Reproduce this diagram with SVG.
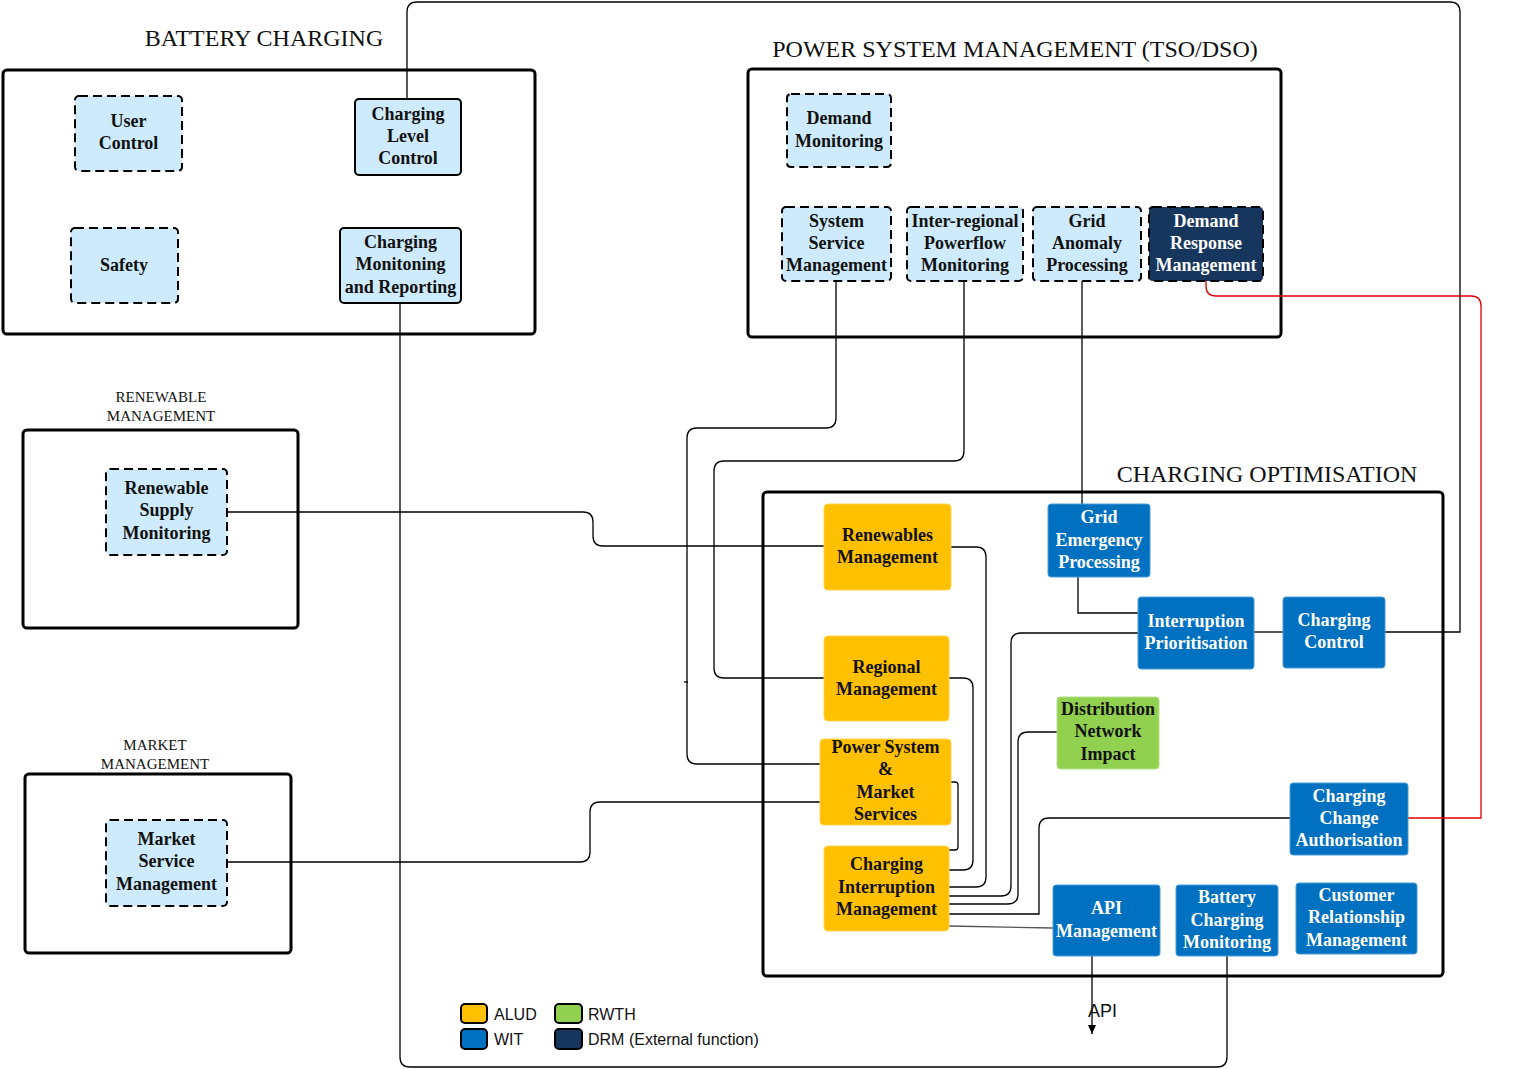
<svg xmlns="http://www.w3.org/2000/svg" width="1514" height="1069" viewBox="0 0 1514 1069">
<defs>
<style>
.grp{fill:none;stroke:#000;stroke-width:3}
.title{font-family:"Liberation Serif",serif;font-size:24px;fill:#111}
.stitle{font-family:"Liberation Serif",serif;font-size:15px;fill:#111}
.lb{fill:#CDEBFC;stroke:#000;stroke-width:2}
.dash{stroke-dasharray:9,5}
.navy{fill:#17365D;stroke:#000;stroke-width:2;stroke-dasharray:9,5}
.org{fill:#FFC000;stroke:#FFD24D;stroke-width:1}
.blu{fill:#0070C0;stroke:#4A9BD8;stroke-width:1}
.grn{fill:#92D050;stroke:#B5E08A;stroke-width:1}
.t{font-family:"Liberation Serif",serif;font-size:18px;font-weight:bold;text-anchor:middle;fill:#111}
.w{fill:#fff}
.c{fill:none;stroke:#000;stroke-width:1.3}
.red{fill:none;stroke:#E00000;stroke-width:1.3}
.leg{font-family:"Liberation Sans",sans-serif;font-size:16px;fill:#111}
</style>
<marker id="arr" markerWidth="10" markerHeight="10" refX="9" refY="4" orient="auto" markerUnits="userSpaceOnUse">
<path d="M0,0 L9,4 L0,8 Z" fill="#000"/>
</marker>
</defs>
<rect width="1514" height="1069" fill="#fff"/>

<g id="groups">
<text class="title" x="264" y="46" text-anchor="middle">BATTERY CHARGING</text>
<rect class="grp" x="3" y="70" width="532" height="264" rx="4"/>
<text class="title" x="1015" y="57" text-anchor="middle">POWER SYSTEM MANAGEMENT (TSO/DSO)</text>
<rect class="grp" x="748" y="69" width="533" height="268" rx="4"/>
<text class="stitle" x="161" y="402" text-anchor="middle">RENEWABLE</text>
<text class="stitle" x="161" y="421" text-anchor="middle">MANAGEMENT</text>
<rect class="grp" x="23" y="430" width="275" height="198" rx="4"/>
<text class="stitle" x="155" y="750" text-anchor="middle">MARKET</text>
<text class="stitle" x="155" y="769" text-anchor="middle">MANAGEMENT</text>
<rect class="grp" x="25" y="774" width="266" height="179" rx="4"/>
<text class="title" x="1267" y="482" text-anchor="middle">CHARGING OPTIMISATION</text>
<rect class="grp" x="763" y="492" width="680" height="484" rx="4"/>
</g>

<g id="connectors">
<path class="c" d="M407,99 V12 Q407,2 417,2 H1450 Q1460,2 1460,12 V632 H1385"/>
<path class="c" d="M400,303 V1057 Q400,1067 410,1067 H1217 Q1227,1067 1227,1057 V956"/>
<path class="c" d="M836,281 V418 Q836,428 826,428 H697 Q687,428 687,438 V754 Q687,764 697,764 H820"/>
<path class="c" d="M684,682 H688"/>
<path class="c" d="M964,281 V451 Q964,461 954,461 H724 Q714,461 714,471 V668 Q714,678 724,678 H824"/>
<path class="c" d="M1082,281 V504"/>
<path class="c" d="M227,512 H583 Q593,512 593,522 V536 Q593,546 603,546 H824"/>
<path class="c" d="M227,862 H580 Q590,862 590,852 V812 Q590,802 600,802 H820"/>
<path class="red" d="M1206,281 V286 Q1206,296 1216,296 H1471 Q1481,296 1481,306 V818 H1408"/>
<path class="c" d="M1078,577 V613 H1138"/>
<path class="c" d="M1254,632 H1283"/>
<path class="c" d="M951,782 H955 Q958,782 958,785 V847 Q958,850 955,850 H949"/>
<path class="c" d="M949,678 H963 Q973,678 973,688 V860 Q973,870 963,870 H949"/>
<path class="c" d="M951,547 H976 Q986,547 986,557 V877 Q986,887 976,887 H949"/>
<path class="c" d="M1138,633 H1021 Q1011,633 1011,643 V886 Q1011,896 1001,896 H949"/>
<path class="c" d="M1057,732 H1028 Q1018,732 1018,742 V894 Q1018,904 1008,904 H949"/>
<path class="c" d="M1290,818 H1049 Q1039,818 1039,828 V914 H949"/>
<path d="M949,926 L1053,928" fill="none" stroke="#555" stroke-width="1.3"/>
<path class="c" d="M1092,956 V1034" marker-end="url(#arr)"/>
</g>

<g id="user-control"><rect class="lb dash" x="75" y="96" width="107" height="75" rx="4"/><text class="t" x="128.5" y="127">User<tspan x="128.5" y="149">Control</tspan></text></g>
<g id="charging-level-control"><rect class="lb" x="355" y="99" width="106" height="76" rx="4"/><text class="t" x="408" y="120">Charging<tspan x="408" y="142">Level</tspan><tspan x="408" y="164">Control</tspan></text></g>
<g id="safety"><rect class="lb dash" x="71" y="228" width="107" height="75" rx="4"/><text class="t" x="124" y="271">Safety</text></g>
<g id="charging-monitoning"><rect class="lb" x="340" y="228" width="121" height="75" rx="4"/><text class="t" x="400.5" y="248">Charging<tspan x="400.5" y="270">Monitoning</tspan><tspan x="400.5" y="293">and Reporting</tspan></text></g>

<g id="demand-monitoring"><rect class="lb dash" x="787" y="94" width="104" height="73" rx="4"/><text class="t" x="839" y="124">Demand<tspan x="839" y="147">Monitoring</tspan></text></g>
<g id="system-service-management"><rect class="lb dash" x="782" y="207" width="109" height="74" rx="4"/><text class="t" x="836.5" y="227">System<tspan x="836.5" y="249">Service</tspan><tspan x="836.5" y="271">Management</tspan></text></g>
<g id="inter-regional"><rect class="lb dash" x="907" y="207" width="116" height="74" rx="4"/><text class="t" x="965" y="227">Inter-regional<tspan x="965" y="249">Powerflow</tspan><tspan x="965" y="271">Monitoring</tspan></text></g>
<g id="grid-anomaly"><rect class="lb dash" x="1033" y="207" width="108" height="74" rx="4"/><text class="t" x="1087" y="227">Grid<tspan x="1087" y="249">Anomaly</tspan><tspan x="1087" y="271">Processing</tspan></text></g>
<g id="demand-response"><rect class="navy" x="1149" y="207" width="114" height="74" rx="4"/><text class="t w" x="1206" y="227">Demand<tspan x="1206" y="249">Response</tspan><tspan x="1206" y="271">Management</tspan></text></g>

<g id="renewable-supply"><rect class="lb dash" x="106" y="469" width="121" height="86" rx="4"/><text class="t" x="166.5" y="494">Renewable<tspan x="166.5" y="516">Supply</tspan><tspan x="166.5" y="539">Monitoring</tspan></text></g>
<g id="market-service"><rect class="lb dash" x="106" y="820" width="121" height="86" rx="4"/><text class="t" x="166.5" y="845">Market<tspan x="166.5" y="867">Service</tspan><tspan x="166.5" y="890">Management</tspan></text></g>

<g id="renewables-management"><rect class="org" x="824" y="504" width="127" height="86" rx="4"/><text class="t" x="887.5" y="541">Renewables<tspan x="887.5" y="563">Management</tspan></text></g>
<g id="regional-management"><rect class="org" x="824" y="636" width="125" height="85" rx="4"/><text class="t" x="886.5" y="673">Regional<tspan x="886.5" y="695">Management</tspan></text></g>
<g id="power-system-market"><rect class="org" x="820" y="739" width="131" height="86" rx="4"/><text class="t" x="885.5" y="753">Power System<tspan x="885.5" y="775">&amp;</tspan><tspan x="885.5" y="798">Market</tspan><tspan x="885.5" y="820">Services</tspan></text></g>
<g id="charging-interruption"><rect class="org" x="824" y="846" width="125" height="85" rx="4"/><text class="t" x="886.5" y="870">Charging<tspan x="886.5" y="893">Interruption</tspan><tspan x="886.5" y="915">Management</tspan></text></g>
<g id="grid-emergency"><rect class="blu" x="1048" y="504" width="102" height="73" rx="3"/><text class="t w" x="1099" y="523">Grid<tspan x="1099" y="546">Emergency</tspan><tspan x="1099" y="568">Processing</tspan></text></g>
<g id="interruption-prioritisation"><rect class="blu" x="1138" y="597" width="116" height="72" rx="3"/><text class="t w" x="1196" y="627">Interruption<tspan x="1196" y="649">Prioritisation</tspan></text></g>
<g id="charging-control"><rect class="blu" x="1283" y="597" width="102" height="71" rx="3"/><text class="t w" x="1334" y="626">Charging<tspan x="1334" y="648">Control</tspan></text></g>
<g id="distribution-network"><rect class="grn" x="1057" y="697" width="102" height="72" rx="3"/><text class="t" x="1108" y="715">Distribution<tspan x="1108" y="737">Network</tspan><tspan x="1108" y="760">Impact</tspan></text></g>
<g id="charging-change"><rect class="blu" x="1290" y="783" width="118" height="72" rx="3"/><text class="t w" x="1349" y="802">Charging<tspan x="1349" y="824">Change</tspan><tspan x="1349" y="846">Authorisation</tspan></text></g>
<g id="api-management"><rect class="blu" x="1053" y="885" width="107" height="71" rx="3"/><text class="t w" x="1106.5" y="914">API<tspan x="1106.5" y="937">Management</tspan></text></g>
<g id="battery-charging-monitoring"><rect class="blu" x="1176" y="885" width="102" height="71" rx="3"/><text class="t w" x="1227" y="903">Battery<tspan x="1227" y="926">Charging</tspan><tspan x="1227" y="948">Monitoring</tspan></text></g>
<g id="customer-relationship"><rect class="blu" x="1296" y="883" width="121" height="71" rx="3"/><text class="t w" x="1356.5" y="901">Customer<tspan x="1356.5" y="923">Relationship</tspan><tspan x="1356.5" y="946">Management</tspan></text></g>

<g id="api-label"><text class="leg" x="1088" y="1017" style="font-size:18px">API</text></g>

<g id="legend">
<rect x="461" y="1004" width="26" height="19" rx="4" fill="#FFC000" stroke="#000" stroke-width="2"/>
<text class="leg" x="494" y="1020">ALUD</text>
<rect x="555" y="1004" width="27" height="19" rx="4" fill="#92D050" stroke="#000" stroke-width="2"/>
<text class="leg" x="588" y="1020">RWTH</text>
<rect x="461" y="1029" width="26" height="20" rx="4" fill="#0070C0" stroke="#000" stroke-width="2"/>
<text class="leg" x="494" y="1045">WIT</text>
<rect x="555" y="1029" width="27" height="20" rx="4" fill="#17365D" stroke="#000" stroke-width="2"/>
<text class="leg" x="588" y="1045">DRM (External function)</text>
</g>
</svg>
